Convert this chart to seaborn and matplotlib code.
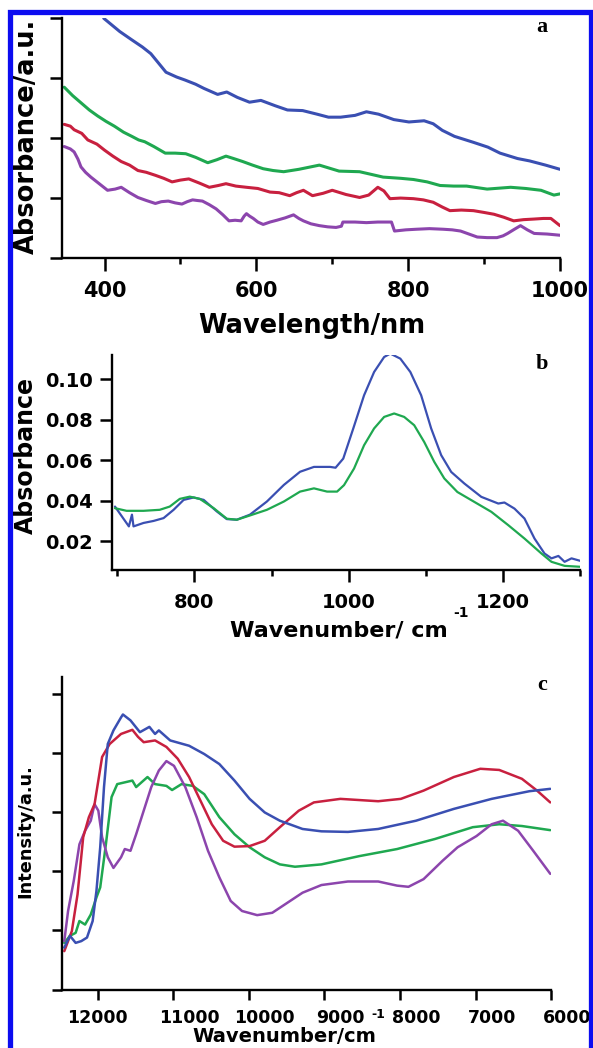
import pandas as pd
import seaborn as sns
import matplotlib.pyplot as plt
from matplotlib.patches import Rectangle
from matplotlib.ticker import MultipleLocator
from matplotlib.transforms import ScaledTranslation

# ---- panel a : UV-vis absorbance vs wavelength ----
blue_a_x = [399, 420, 436, 450, 461, 481, 495, 506, 520, 531, 549, 561, 575, 591, 606, 625, 641, 661, 680, 695,
            711, 730, 745, 761, 781, 801, 821, 833, 845, 861, 886, 905, 921, 944, 960, 981, 1000]
blue_a_y = [4.00, 3.78, 3.64, 3.52, 3.41, 3.10, 3.02, 2.97, 2.90, 2.83, 2.73, 2.77, 2.68, 2.60, 2.63, 2.54, 2.47, 2.46,
            2.40, 2.35, 2.35, 2.38, 2.44, 2.40, 2.31, 2.27, 2.29, 2.24, 2.13, 2.03, 1.93, 1.85, 1.75, 1.66, 1.62, 1.55, 1.48]
green_a_x = [347, 358, 369, 380, 391, 402, 413, 425, 436, 445, 453, 465, 480, 493, 507, 520, 536, 548, 560, 570, 582,
             595, 609, 622, 636, 656, 683, 709, 736, 767, 790, 807, 825, 842, 860, 877, 904, 935, 955, 975, 992, 1000]
green_a_y = [2.85, 2.71, 2.59, 2.47, 2.37, 2.28, 2.20, 2.10, 2.03, 1.97, 1.94, 1.86, 1.75, 1.75, 1.74, 1.68, 1.59, 1.64,
             1.70, 1.66, 1.61, 1.55, 1.49, 1.46, 1.44, 1.48, 1.55, 1.45, 1.44, 1.35, 1.33, 1.31, 1.27, 1.21, 1.20, 1.20,
             1.15, 1.18, 1.16, 1.13, 1.05, 1.07]
red_a_x = [347, 355, 360, 370, 378, 390, 400, 411, 422, 433, 444, 455, 467, 478, 489, 500, 511, 525, 538, 550, 560,
           573, 587, 602, 618, 630, 644, 653, 662, 674, 688, 700, 718, 736, 748, 760, 768, 776, 790, 807, 820, 833,
           845, 855, 870, 886, 900, 913, 926, 939, 952, 966, 978, 988, 1000]
red_a_y = [2.23, 2.20, 2.14, 2.08, 1.97, 1.90, 1.80, 1.70, 1.61, 1.55, 1.46, 1.43, 1.38, 1.33, 1.27, 1.30, 1.32, 1.25,
           1.18, 1.21, 1.24, 1.20, 1.18, 1.16, 1.10, 1.09, 1.04, 1.09, 1.13, 1.04, 1.08, 1.13, 1.06, 1.01, 1.05, 1.18,
           1.12, 0.99, 1.00, 0.99, 0.97, 0.93, 0.85, 0.79, 0.80, 0.79, 0.76, 0.73, 0.68, 0.62, 0.64, 0.65, 0.66, 0.66,
           0.54]
purple_a_x = [347, 355, 360, 365, 369, 375, 382, 393, 404, 414, 422, 433, 444, 455, 467, 475, 484, 493, 502, 509, 516,
              522, 529, 538, 547, 556, 564, 572, 580, 584, 587, 591, 596, 602, 609, 618, 627, 638, 649, 656, 662, 672,
              683, 694, 705, 712, 714, 730, 745, 760, 773, 778, 782, 797, 811, 828, 846, 858, 869, 880, 891, 904, 917,
              925, 931, 940, 948, 957, 966, 983, 1000]
purple_a_y = [1.86, 1.82, 1.77, 1.65, 1.52, 1.43, 1.35, 1.24, 1.13, 1.15, 1.18, 1.09, 1.01, 0.96, 0.91, 0.94, 0.95,
              0.92, 0.90, 0.94, 0.97, 0.96, 0.95, 0.89, 0.82, 0.72, 0.62, 0.63, 0.62, 0.70, 0.74, 0.70, 0.66, 0.60,
              0.56, 0.60, 0.63, 0.67, 0.72, 0.66, 0.62, 0.57, 0.54, 0.52, 0.51, 0.53, 0.60, 0.60, 0.59, 0.60, 0.60,
              0.60, 0.45, 0.47, 0.48, 0.49, 0.48, 0.47, 0.45, 0.40, 0.35, 0.34, 0.34, 0.37, 0.41, 0.48, 0.54, 0.47,
              0.41, 0.40, 0.38]

# ---- panel b : IR absorbance ----
blue_b_x = [697, 706, 715, 719, 721, 734, 747, 760, 773, 786, 799, 812, 829, 842, 855, 872, 894, 916, 937, 955, 976,
            983, 993, 1006, 1020, 1033, 1046, 1054, 1067, 1080, 1094, 1107, 1120, 1133, 1150, 1172, 1194, 1202, 1215,
            1228, 1241, 1254, 1263, 1272, 1280, 1289, 1302]
blue_b_y = [.0371, .0322, .0273, .0331, .0273, .0290, .0300, .0314, .0355, .0404, .0416, .0404, .0347, .0309, .0306,
            .0331, .0396, .0478, .0543, .0567, .0567, .0563, .0608, .0757, .0921, .1036, .1110, .1127, .1102, .1036,
            .0921, .0757, .0625, .0542, .0485, .0419, .0386, .0391, .0361, .0312, .0213, .0139, .0115, .0127, .0098,
            .0115, .0101]
green_b_x = [697, 712, 734, 755, 768, 781, 794, 807, 825, 842, 855, 872, 894, 916, 937, 955, 972, 985, 994, 1007, 1020,
             1033, 1046, 1059, 1072, 1085, 1098, 1111, 1124, 1141, 1163, 1185, 1207, 1228, 1250, 1263, 1280, 1302]
green_b_y = [.0363, .0350, .0350, .0355, .0371, .0409, .0420, .0409, .0363, .0311, .0306, .0327, .0355, .0396, .0445,
             .0461, .0445, .0445, .0477, .0559, .0674, .0757, .0814, .0831, .0814, .0773, .0690, .0592, .0510, .0443,
             .0394, .0345, .0279, .0213, .0139, .0098, .0078, .0073]

# ---- panel c : NIR intensity ----
blue_c_x = [12440, 12365, 12290, 12215, 12140, 12065, 12015, 11965, 11915, 11865, 11790, 11690, 11665, 11565, 11440,
            11315, 11240, 11190, 11040, 10790, 10590, 10390, 10190, 9990, 9790, 9590, 9290, 9040, 8690, 8290, 7790,
            7290, 6790, 6290, 6015]
blue_c_y = [0.71, 0.91, 0.79, 0.82, 0.88, 1.16, 1.67, 2.41, 3.43, 4.16, 4.39, 4.61, 4.66, 4.56, 4.36, 4.45, 4.33, 4.39,
            4.22, 4.13, 3.99, 3.82, 3.54, 3.23, 3.00, 2.86, 2.72, 2.68, 2.67, 2.72, 2.86, 3.06, 3.23, 3.36, 3.40]
red_c_x = [12440, 12340, 12265, 12190, 12115, 12040, 11940, 11840, 11690, 11540, 11465, 11390, 11240, 11090, 10940,
           10790, 10640, 10490, 10340, 10190, 9990, 9790, 9590, 9340, 9140, 8790, 8290, 7990, 7690, 7290, 6940, 6690,
           6390, 6190, 6015]
red_c_y = [0.65, 0.99, 1.61, 2.58, 2.92, 3.14, 3.94, 4.16, 4.33, 4.40, 4.28, 4.19, 4.22, 4.11, 3.91, 3.60, 3.20, 2.80,
           2.52, 2.42, 2.43, 2.52, 2.75, 3.03, 3.17, 3.23, 3.19, 3.23, 3.37, 3.60, 3.74, 3.72, 3.57, 3.37, 3.17]
green_c_x = [12440, 12365, 12290, 12240, 12165, 12090, 12015, 11965, 11890, 11815, 11740, 11640, 11540, 11490, 11340,
             11240, 11090, 11015, 10890, 10740, 10590, 10390, 10190, 9990, 9790, 9590, 9390, 9040, 8540, 8040, 7540,
             7040, 6690, 6390, 6015]
green_c_y = [0.79, 0.91, 0.96, 1.16, 1.10, 1.27, 1.56, 1.73, 2.46, 3.26, 3.48, 3.51, 3.54, 3.43, 3.60, 3.48, 3.45, 3.38,
             3.48, 3.45, 3.31, 2.92, 2.63, 2.41, 2.24, 2.12, 2.08, 2.12, 2.26, 2.38, 2.55, 2.75, 2.80, 2.77, 2.70]
purple_c_x = [12440, 12390, 12315, 12240, 12165, 12090, 12040, 11990, 11940, 11865, 11790, 11690, 11640, 11565, 11490,
              11390, 11290, 11190, 11090, 10990, 10840, 10690, 10540, 10390, 10240, 10090, 9890, 9690, 9490, 9290,
              9040, 8690, 8290, 8040, 7890, 7690, 7440, 7240, 6990, 6790, 6640, 6440, 6240, 6015]
purple_c_y = [0.82, 1.33, 1.84, 2.46, 2.69, 2.86, 3.14, 3.03, 2.58, 2.24, 2.06, 2.24, 2.38, 2.35, 2.63, 3.03, 3.43,
              3.71, 3.87, 3.79, 3.43, 2.92, 2.35, 1.90, 1.50, 1.33, 1.26, 1.30, 1.47, 1.64, 1.77, 1.83, 1.83, 1.76,
              1.74, 1.87, 2.18, 2.41, 2.60, 2.80, 2.86, 2.69, 2.35, 1.96]

colors = {"blue": "#3a4fb2", "green": "#1fa850", "red": "#c8203f", "purple": "#8c45ad"}


def long_form(pairs):
    frames = []
    for name, xs, ys in pairs:
        frames.append(pd.DataFrame({"x": xs, "y": ys, "sample": name}))
    return pd.concat(frames, ignore_index=True)


df_a = long_form([("blue", blue_a_x, blue_a_y), ("green", green_a_x, green_a_y),
                  ("red", red_a_x, red_a_y), ("purple", purple_a_x, purple_a_y)])
df_b = long_form([("blue", blue_b_x, blue_b_y), ("green", green_b_x, green_b_y)])
df_c = long_form([("green", green_c_x, green_c_y), ("purple", purple_c_x, purple_c_y),
                  ("red", red_c_x, red_c_y), ("blue", blue_c_x, blue_c_y)])

sns.set_style("ticks")
plt.rcParams["font.family"] = ["DejaVu Sans"]
plt.rcParams["font.weight"] = "bold"
plt.rcParams["text.color"] = "black"

W, H = 593, 1048
fig = plt.figure(figsize=(W / 100, H / 100), dpi=100)


def box(left, top, right, bottom):
    return [left / W, 1 - bottom / H, (right - left) / W, (bottom - top) / H]


def fpos(x, y):
    return x / W, 1 - y / H


def style_axes(ax, fs, xlen, xpad, ylen, ypad):
    sns.despine(ax=ax)
    for s in ["left", "bottom"]:
        ax.spines[s].set_linewidth(1.7)
        ax.spines[s].set_color("black")
    ax.tick_params(axis="x", which="major", direction="out", length=xlen, width=1.8, pad=xpad,
                   labelsize=fs, colors="black")
    ax.tick_params(axis="x", which="minor", direction="out", length=xlen * 0.5, width=1.8, colors="black")
    ax.tick_params(axis="y", which="major", direction="out", length=ylen, width=1.8, pad=ypad,
                   labelsize=fs, colors="black")
    ax.set_xlabel("")
    ax.set_ylabel("")


# panel a
ax_a = fig.add_axes(box(62, 18.3, 560, 258))
sns.lineplot(data=df_a, x="x", y="y", hue="sample", palette=colors, estimator=None,
             linewidth=2.2, legend=False, ax=ax_a)
ax_a.set_xlim(344, 1000)
ax_a.set_ylim(0, 4)
ax_a.set_xticks([400, 600, 800, 1000])
ax_a.xaxis.set_minor_locator(MultipleLocator(100))
ax_a.set_yticks([0, 1, 2, 3, 4])
ax_a.set_yticklabels([])
style_axes(ax_a, 15, 9, 7.5, 8.5, 4)

# panel b
ax_b = fig.add_axes(box(111.6, 355, 580, 569.5))
sns.lineplot(data=df_b, x="x", y="y", hue="sample", palette=colors, estimator=None,
             linewidth=1.6, legend=False, ax=ax_b)
ax_b.set_xlim(692.6, 1300)
ax_b.set_ylim(0.006, 0.112)
ax_b.set_xticks([800, 1000, 1200])
ax_b.xaxis.set_minor_locator(MultipleLocator(100))
ax_b.set_yticks([0.02, 0.04, 0.06, 0.08, 0.10])
ax_b.set_yticklabels(["0.02", "0.04", "0.06", "0.08", "0.10"])
style_axes(ax_b, 14, 8.5, 8.5, 8.5, 5)

# panel c
ax_c = fig.add_axes(box(62.4, 676.7, 551.4, 989.5))
sns.lineplot(data=df_c, x="x", y="y", hue="sample", palette=colors, estimator=None,
             linewidth=1.8, legend=False, ax=ax_c)
ax_c.set_xlim(12465, 6000)
ax_c.set_ylim(0, 5.3)
ax_c.set_xticks([12000, 11000, 10000, 9000, 8000, 7000, 6000])
ax_c.set_yticks([0, 1, 2, 3, 4, 5])
ax_c.set_yticklabels([])
style_axes(ax_c, 12.5, 7, 7, 7.5, 4)
# in the original the labels after 12000 sit a little right of their ticks
shift = ScaledTranslation(16 / 100, 0, fig.dpi_scale_trans)
for lbl in ax_c.get_xticklabels()[1:]:
    lbl.set_transform(lbl.get_transform() + shift)

# axis titles
fig.text(*fpos(27, 136), "Absorbance/a.u.", rotation=90, ha="center", va="center", fontsize=18.5)
fig.text(*fpos(312, 326), "Wavelength/nm", ha="center", va="center", fontsize=18.5)
fig.text(*fpos(25.5, 455), "Absorbance", rotation=90, ha="center", va="center", fontsize=17)
fig.text(*fpos(338.5, 630), "Wavenumber/ cm", ha="center", va="center", fontsize=16)
fig.text(*fpos(461, 613), "-1", ha="center", va="center", fontsize=10)
fig.text(*fpos(25.5, 831), "Intensity/a.u.", rotation=90, ha="center", va="center", fontsize=12.8)
fig.text(*fpos(284.5, 1037), "Wavenumber/cm", ha="center", va="center", fontsize=14)
fig.text(*fpos(378, 1015), "-1", ha="center", va="center", fontsize=9)

# panel letters
for letter, (lx, ly) in zip(["a", "b", "c"], [(542, 27), (542, 364), (542, 685)]):
    fig.text(*fpos(lx, ly), letter, ha="center", va="center", fontsize=16,
             family="Liberation Serif", fontweight="bold")

# blue frame around the whole figure
fig.patches.append(Rectangle(fpos(9.5, 1060), (590.5 - 9.5) / W, (1060 - 12) / H,
                             transform=fig.transFigure, fill=False, edgecolor="#0c0cf0", linewidth=3.8))

fig.savefig("out.png", dpi=100)
